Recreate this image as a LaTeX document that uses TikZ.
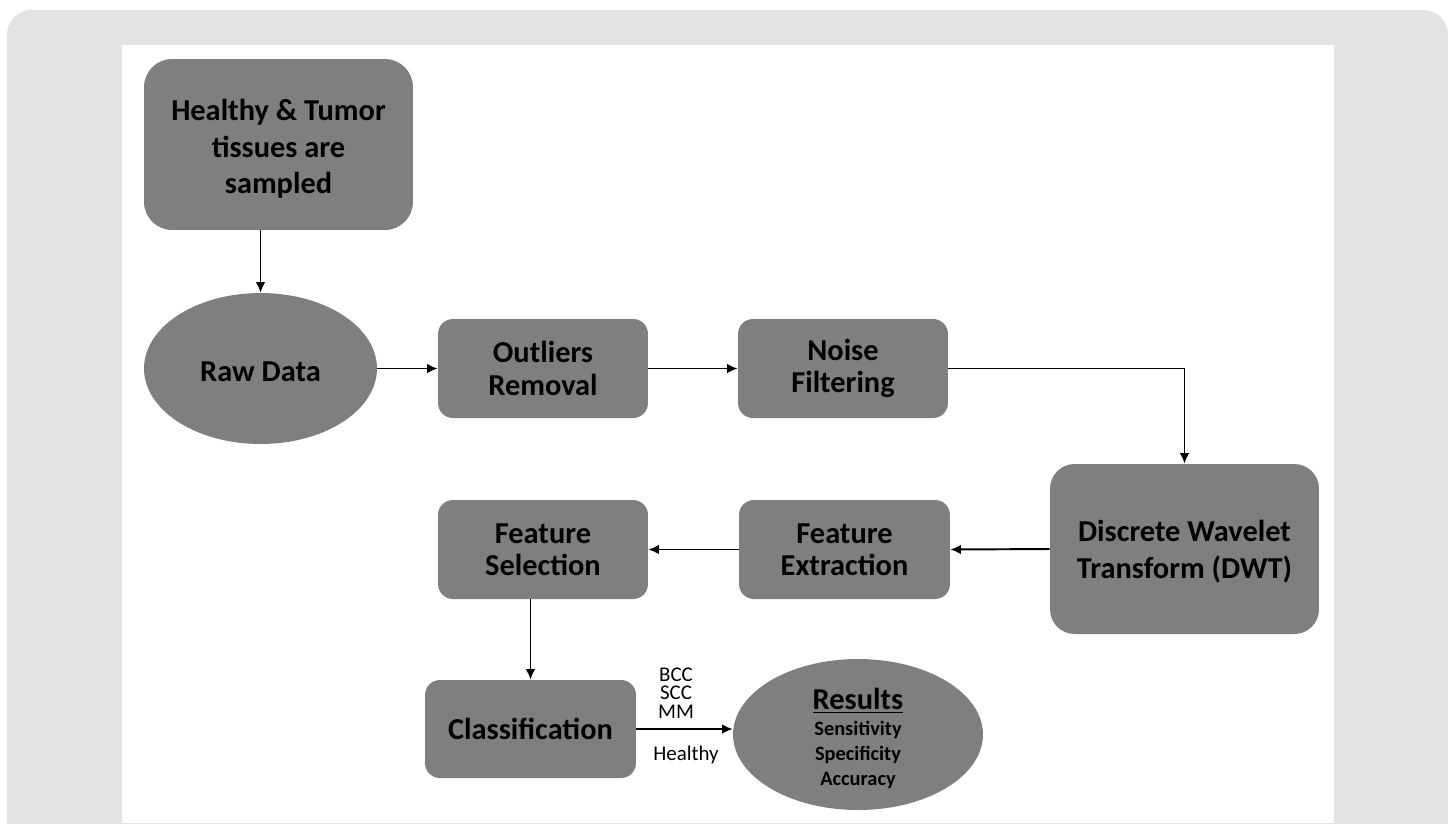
\documentclass[tikz,border=0pt]{standalone}
\usepackage{fontspec}
\setmainfont{Carlito}
\usetikzlibrary{shapes.geometric,arrows.meta}
\definecolor{boxgray}{HTML}{7F7F7F}
\definecolor{framegray}{HTML}{E3E3E3}
\tikzset{
  stepbox/.style={fill=boxgray, rounded corners=#1, align=center, inner sep=0pt,
    font=\bfseries\fontsize{17.3}{18.5}\selectfont},
  stepbox/.default=8.5pt,
  bigbox/.style={stepbox=#1, minimum width=5.38cm, font=\bfseries\fontsize{17.3}{21}\selectfont},
  dataoval/.style={ellipse, fill=boxgray, align=center, inner sep=0pt},
  flow/.style={-{Latex[length=6pt,width=5.5pt]}, line width=1.1pt},
  classlabel/.style={font=\fontsize{11.9}{10.5}\selectfont, align=center, inner sep=0pt}
}
\begin{document}
\begin{tikzpicture}[x=0.02cm, y=-0.02cm]
  \useasboundingbox (0,0) rectangle (1453,823);
  \begin{scope}
    \clip (0,0) rectangle (1453,823);
    \fill[framegray, rounded corners=14pt] (7,10) rectangle (1448,900);
    \fill[white] (122,45) rectangle (1334,823);
  \end{scope}
  % first row
  \node[bigbox=16pt, minimum height=3.42cm] (tissue) at (278.5,144.5) {\rule{0pt}{17pt}Healthy \& Tumor\\tissues are\\sampled};
  \node[dataoval, minimum width=4.66cm, minimum height=3.02cm, font=\bfseries\fontsize{17.3}{21}\selectfont] (raw) at (260.5,368.5) {\rule{0pt}{15pt}Raw Data};
  \node[stepbox, minimum width=4.2cm, minimum height=1.98cm] (outlier) at (543,368.5) {Outliers\\Removal};
  \node[stepbox, minimum width=4.2cm, minimum height=1.98cm] (noise) at (843,368.5) {Noise\\Filtering};
  % second row
  \node[bigbox=14pt, minimum height=3.4cm] (dwt) at (1184.5,549) {\rule{0pt}{15pt}Discrete Wavelet\\Transform (DWT)};
  \node[stepbox, minimum width=4.22cm, minimum height=1.98cm] (extract) at (844.5,549.5) {Feature\\Extraction};
  \node[stepbox, minimum width=4.2cm, minimum height=1.98cm] (select) at (543,549.5) {Feature\\Selection};
  % last row
  \node[stepbox, minimum width=4.22cm, minimum height=1.96cm] (classif) at (530.5,729) {Classification};
  \node[dataoval, inner ysep=-5pt, minimum width=5cm, minimum height=3.02cm, font=\bfseries\fontsize{11.6}{14.2}\selectfont] (results) at (858,734.5)
    {\rule{0pt}{17pt}{\fontsize{17.3}{18}\selectfont\underline{Results}}\\[0.5pt]Sensitivity\\Specificity\\Accuracy};
  \node[classlabel] (classes) at (676,693) {BCC\\SCC\\MM};
  \node[classlabel] (healthy) at (686,755) {Healthy};
  % connectors
  \draw[flow] (tissue.south -| raw.north) -- (raw.north);
  \draw[flow] (raw.east) -- (outlier.west);
  \draw[flow] (outlier.east) -- (noise.west);
  \draw[flow] (noise.east) -| (dwt.north);
  \draw[flow] (dwt.west) -- (extract.east);
  \draw[flow] (extract.west) -- (select.east);
  \draw[flow] (select.south -| classif.north) -- (classif.north);
  \draw[flow] (classif.east) -- (results.west |- classif.east);
\end{tikzpicture}
\end{document}
